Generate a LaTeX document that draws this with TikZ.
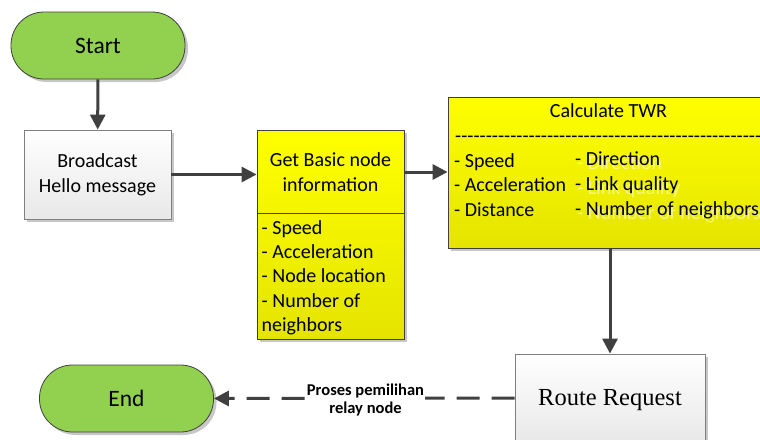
\documentclass[tikz,border=0pt]{standalone}
\usepackage{fontspec}
\setmainfont{Carlito}
\newfontfamily\rrserif{Liberation Serif}
\usetikzlibrary{arrows.meta,shadows,calc}

\definecolor{termgreen}{HTML}{92D050}
\definecolor{arrowgray}{HTML}{404040}
\definecolor{edgegray}{HTML}{404040}
\definecolor{boxedge}{HTML}{7F7F7F}
\definecolor{yellowtop}{HTML}{FFFF00}
\definecolor{yellowbot}{HTML}{E4E400}

% a row of plain hyphens (no dash ligatures)
\newcommand\hyphenrow[1]{\foreach \k in {1,...,#1}{-{}}}

\tikzset{
  boxshadow/.style={drop shadow={shadow xshift=3pt, shadow yshift=-3pt, fill=black!22, opacity=1}},
  pill/.style={rounded corners=33pt, draw=edgegray, line width=0.8pt, fill=termgreen,
    minimum width=174pt, minimum height=67pt, inner sep=0pt, boxshadow,
    font=\fontsize{23.5}{28}\selectfont},
  graybox/.style={draw=boxedge, line width=0.8pt, top color=white, bottom color=black!9,
    inner sep=0pt, boxshadow},
  yellowbox/.style={draw=edgegray, line width=0.8pt, top color=yellowtop, bottom color=yellowbot,
    inner sep=0pt, boxshadow},
  txt/.style={inner sep=0pt, font=\fontsize{20}{24.5}\selectfont},
  ghost/.style={txt, text=white, opacity=0.5},
  flowarrow/.style={draw=arrowgray, line width=3pt, -{Triangle[length=15pt,width=15pt]}},
  dasharrow/.style={flowarrow, dash pattern=on 23pt off 12pt},
}

\begin{document}
\begin{tikzpicture}[x=1pt,y=-1pt]
\useasboundingbox (0,0) rectangle (760,439);
\clip (0,0) rectangle (760,439);

% terminals
\node[pill] (start) at (98,45.5) {Start};
\node[pill] (end) at (126.5,398.5) {End};

% process boxes
\node[graybox, minimum width=147pt, minimum height=89pt] (bcast) at (97.5,174.5) {};
\node[txt, align=center, font=\fontsize{20}{25}\selectfont] (bcasttxt) at (97.5,175) {Broadcast\\Hello message};

\node[yellowbox, minimum width=147pt, minimum height=209pt] (basic) at (330.5,234.5) {};
\draw[draw=edgegray, line width=0.8pt] ($(basic.north west)+(0,84)$) coordinate (divl) -- ($(basic.north east)+(0,84)$) coordinate (divr);
\node[txt, align=center] (basictitle) at (330.5,172) {Get Basic node\\information};
\node[txt, anchor=base west] (b1) at (261.5,234.3) {- Speed};
\node[txt, anchor=base west] (b2) at (261.5,258.3) {- Acceleration};
\node[txt, anchor=base west] (b3) at (261.5,282.6) {- Node location};
\node[txt, anchor=base west] (b4) at (261.5,307.3) {- Number of};
\node[txt, anchor=base west] (b5) at (261.5,331.7) {neighbors};

\node[yellowbox, minimum width=322pt, minimum height=151pt] (twr) at (609,172.5) {};
\node[txt, anchor=base] (twrtitle) at (608.5,117.3) {Calculate TWR};
\node[txt, anchor=base west] (twrrule) at (455,142) {\hyphenrow{50}};
\node[txt, anchor=base west] (t1) at (454,167.3) {- Speed};
\node[txt, anchor=base west] (t2) at (454,191.7) {- Acceleration};
\node[txt, anchor=base west] (t3) at (454,216) {- Distance};
% pale echo behind the second column
\node[ghost, anchor=base west] (g4) at (577,169.5) {- Direction};
\node[ghost, anchor=base west] (g5) at (577,194.5) {- Link quality};
\node[ghost, anchor=base west] (g6) at (577,219.5) {- Number of neighbors};
\node[txt, anchor=base west] (t4) at (575,165) {- Direction};
\node[txt, anchor=base west] (t5) at (575,190) {- Link quality};
\node[txt, anchor=base west] (t6) at (575,215) {- Number of neighbors};

\node[graybox, minimum width=190pt, minimum height=88pt] (route) at (610,398) {};
\node[inner sep=0pt, anchor=base, font=\rrserif\fontsize{24.5}{28}\selectfont] (routetxt) at (610,405) {Route Request};

% connectors
\draw[flowarrow] (start) -- (bcast);
\draw[flowarrow] (bcast.east) -- (bcast.east -| basic.west);
\draw[flowarrow] (basictitle.east -| basic.east) -- (basictitle.east -| twr.west);
\draw[flowarrow] (twr.south -| route.north) -- (route.north);
\draw[dasharrow] (route.west) -- (end.east);
\node[fill=white, inner sep=1pt, align=center, font=\bfseries\fontsize{16.5}{18.5}\selectfont] (sel) at (365.5,400) {Proses pemilihan\\relay node};
\end{tikzpicture}
\end{document}
